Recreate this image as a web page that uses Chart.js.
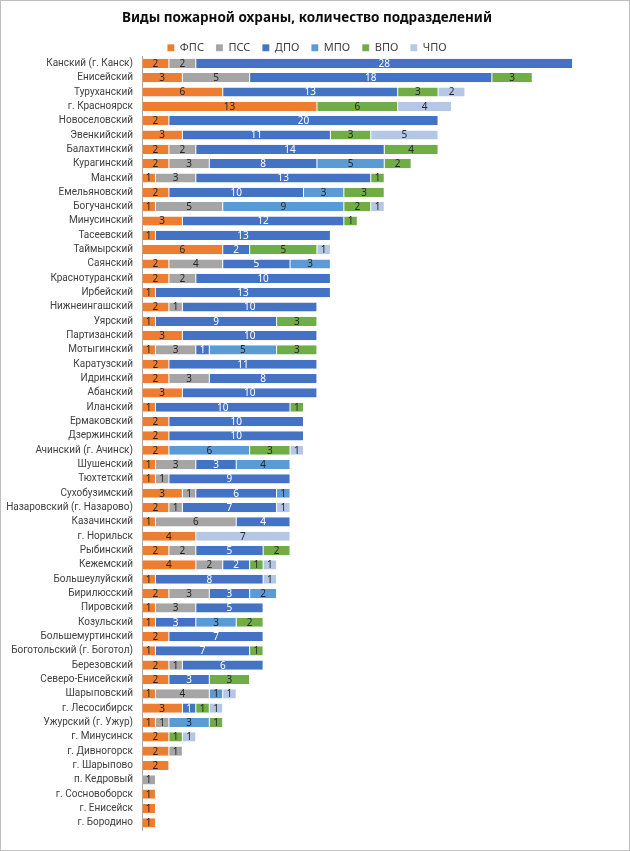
<!DOCTYPE html>
<html>
<head>
<meta charset="utf-8">
<script src="https://cdn.jsdelivr.net/npm/chart.js@4"></script>
<style>
  body{margin:0;background:#fff}
  .box{width:628px;height:849px;border:1px solid #bfbfbf;position:relative}
</style>
</head>
<body>
<div class="box"><canvas class="bar-chart" width="628" height="849"></canvas></div>
<script>
var districts=["Канский (г. Канск)","Енисейский","Туруханский","г. Красноярск","Новоселовский","Эвенкийский","Балахтинский","Курагинский","Манский","Емельяновский","Богучанский","Минусинский","Тасеевский","Таймырский","Саянский","Краснотуранский","Ирбейский","Нижнеингашский","Уярский","Партизанский","Мотыгинский","Каратузский","Идринский","Абанский","Иланский","Ермаковский","Дзержинский","Ачинский (г. Ачинск)","Шушенский","Тюхтетский","Сухобузимский","Назаровский (г. Назарово)","Казачинский","г. Норильск","Рыбинский","Кежемский","Большеулуйский","Бирилюсский","Пировский","Козульский","Большемуртинский","Боготольский (г. Боготол)","Березовский","Северо-Енисейский","Шарыповский","г. Лесосибирск","Ужурский (г. Ужур)","г. Минусинск","г. Дивногорск","г. Шарыпово","п. Кедровый","г. Сосновоборск","г. Енисейск","г. Бородино"]

var fps=[2,3,6,13,2,3,2,2,1,2,1,3,1,6,2,2,1,2,1,3,1,2,2,3,1,2,2,2,1,1,3,2,1,4,2,4,1,2,1,1,2,1,2,2,1,3,1,2,2,2,0,1,1,1]
var pss=[2,5,0,0,0,0,2,3,3,0,5,0,0,0,4,2,0,1,0,0,3,0,3,0,0,0,0,0,3,1,1,1,6,0,2,2,0,3,3,0,0,0,1,0,4,0,1,0,1,0,1,0,0,0]
var dpo=[28,18,13,0,20,11,14,8,13,10,0,12,13,2,5,10,13,10,9,10,1,11,8,10,10,10,10,0,3,9,6,7,4,0,5,2,8,3,5,3,7,7,6,3,0,1,0,0,0,0,0,0,0,0]
var mpo=[0,0,0,0,0,0,0,5,0,3,9,0,0,0,3,0,0,0,0,0,5,0,0,0,0,0,0,6,4,0,1,0,0,0,0,0,0,2,0,3,0,0,0,0,1,0,3,0,0,0,0,0,0,0]
var vpo=[0,3,3,6,0,3,4,2,1,3,2,1,0,5,0,0,0,0,3,0,3,0,0,0,1,0,0,3,0,0,0,0,0,0,2,1,0,0,0,2,0,1,0,3,0,1,1,1,0,0,0,0,0,0]
var chpo=[0,0,2,4,0,5,0,0,0,0,1,0,0,1,0,0,0,0,0,0,0,0,0,0,0,0,0,1,0,0,0,1,0,7,0,1,1,0,0,0,0,0,0,0,1,1,0,1,0,0,0,0,0,0]

var seriesNames=["ФПС","ПСС","ДПО","МПО","ВПО","ЧПО"]
var seriesData=[fps,pss,dpo,mpo,vpo,chpo]
var colors=["#ED7D31","#A5A5A5","#4472C4","#5B9BD5","#70AD47","#B4C7E7"]
var labelColors=["#262626","#262626","#ffffff","#262626","#262626","#262626"]

var font="'Noto Sans', sans-serif"
var tickFont="Roboto, sans-serif"

// value labels in the middle of every segment
var valueLabels={
  id:"valueLabels",
  afterDatasetsDraw:function(chart){
    var ctx=chart.ctx
    ctx.save()
    ctx.font="10px "+font
    ctx.textAlign="center"
    ctx.textBaseline="middle"
    chart.data.datasets.forEach(function(ds,i){
      var meta=chart.getDatasetMeta(i)
      meta.data.forEach(function(bar,j){
        var v=ds.data[j]
        if(!v) return
        ctx.fillStyle=labelColors[i]
        ctx.fillText(v,(bar.x+bar.base)/2,bar.y+0.5)
      })
    })
    ctx.restore()
  }
}

// legend sits close above the bars
var tightLegend={
  id:"tightLegend",
  beforeInit:function(chart){
    var fit=chart.legend.fit
    chart.legend.fit=function(){
      fit.call(this)
      this.height-=7
    }
  }
}

var datasets=[]
for(var i=0;i<seriesNames.length;i++){
  datasets.push({
    label:seriesNames[i],
    data:seriesData[i],
    backgroundColor:colors[i],
    borderColor:"rgba(255,255,255,0.6)",
    borderWidth:{left:0.5,right:0.5,top:0,bottom:0},
    borderSkipped:false,
    categoryPercentage:0.64,
    barPercentage:1
  })
}

var chart=new Chart(document.querySelector(".bar-chart"),{
  type:"bar",
  data:{labels:districts,datasets:datasets},
  plugins:[valueLabels,tightLegend],
  options:{
    responsive:false,
    animation:false,
    indexAxis:"y",
    layout:{padding:{left:0,right:16,top:0,bottom:20}},
    scales:{
      x:{
        stacked:true,
        display:false,
        min:0,
        max:35
      },
      y:{
        stacked:true,
        grid:{display:false,drawTicks:false},
        border:{display:true,color:"#a6a6a6"},
        ticks:{color:"#404040",font:{family:tickFont,size:10},padding:9,autoSkip:false},
        afterFit:function(scale){scale.width=141}
      }
    },
    plugins:{
      title:{
        display:true,
        text:"Виды пожарной охраны, количество подразделений",
        color:"#0d0d0d",
        font:{family:font,size:13.5,weight:"bold"},
        padding:{top:9,bottom:4}
      },
      legend:{
        display:true,
        labels:{
          color:"#404040",
          font:{family:font,size:11},
          boxWidth:7,
          boxHeight:7,
          padding:12
        }
      },
      tooltip:{enabled:false}
    }
  }
})
</script>
</body>
</html>
